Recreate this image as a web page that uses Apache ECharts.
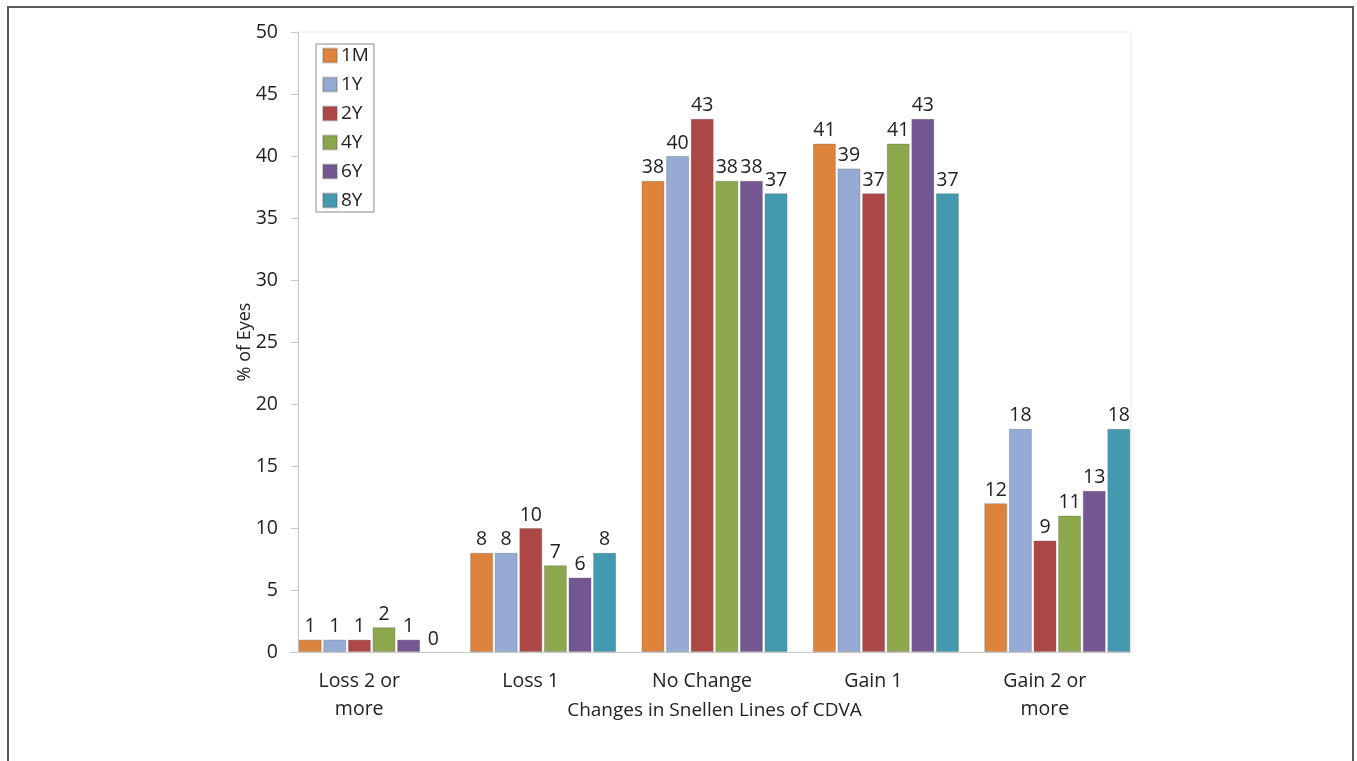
<!DOCTYPE html>
<html>
<head>
<meta charset="utf-8">
<script src="https://cdn.jsdelivr.net/npm/echarts@6/dist/echarts.min.js"></script>
<style>
  html, body { margin: 0; padding: 0; background: #fff; }
  #chart { position: absolute; left: 0; top: 0; width: 1357px; height: 761px; }
  #frame { position: absolute; left: 7px; top: 6px; width: 1347px; height: 800px;
           border: 2px solid #5a5a5a; box-sizing: border-box; pointer-events: none; }
</style>
</head>
<body>
<div id="chart"></div>
<div id="frame"></div>
<script>
// Categories and series (percent of eyes)
const categories = ["Loss 2 or\nmore", "Loss 1", "No Change", "Gain 1", "Gain 2 or\nmore"];
const seriesNames = ["1M", "1Y", "2Y", "4Y", "6Y", "8Y"];
const m1 = [1, 8, 38, 41, 12];
const y1 = [1, 8, 40, 39, 18];
const y2 = [1, 10, 43, 37, 9];
const y4 = [2, 7, 38, 41, 11];
const y6 = [1, 6, 38, 43, 13];
const y8 = [0, 8, 37, 37, 18];
const colors = ["#de833b", "#95aad5", "#ac4745", "#8da74d", "#735692", "#4399b0"];

const font = "'Open Sans', sans-serif";
const chart = echarts.init(document.getElementById("chart"));

const values = [m1, y1, y2, y4, y6, y8];

const option = {
  animation: false,
  textStyle: { fontFamily: font },
  grid: { left: 286, right: 214, top: 32, bottom: 109 },
  legend: {
    orient: "vertical",
    left: 316,
    top: 44,
    data: seriesNames,
    itemWidth: 14,
    itemHeight: 14,
    itemGap: 10,
    padding: [2, 5, 2, 6],
    borderColor: "#8a8a8a",
    borderWidth: 1,
    icon: "rect",
    textStyle: { fontFamily: font, fontSize: 19, color: "#222", padding: [0, 0, 0, -1] }
  },
  xAxis: {
    type: "category",
    data: categories,
    name: "Changes in Snellen Lines of CDVA",
    nameLocation: "middle",
    nameGap: 49,
    nameMoveOverlap: false,
    nameTextStyle: { fontFamily: font, fontSize: 19, color: "#222" },
    axisLine: { show: false },
    axisTick: { show: false },
    axisLabel: {
      margin: 15,
      formatter: v => v.split("\n").map(s => "{a|" + s + "}").join("\n"),
      rich: { a: { fontFamily: font, fontSize: 19.5, color: "#222", lineHeight: 28, padding: [0, 25, 0, 0] } }
    }
  },
  yAxis: {
    type: "value",
    min: 0,
    max: 50,
    interval: 5,
    offset: -12,
    name: "% of Eyes",
    nameLocation: "middle",
    nameGap: 44,
    nameMoveOverlap: false,
    nameTextStyle: { fontFamily: font, fontSize: 18, color: "#222" },
    axisLine: { show: true, lineStyle: { color: "#c8c8c8", width: 1 } },
    axisTick: { show: true, length: 7, lineStyle: { color: "#c8c8c8" } },
    axisLabel: { fontFamily: font, fontSize: 19.5, color: "#222", margin: 20 },
    splitLine: { show: false }
  },
  graphic: [
    // light plot-area frame (top / right) and the base line
    { type: "rect", shape: { x: 298, y: 32, width: 833, height: 620 }, style: { fill: "none", stroke: "#ececec", lineWidth: 1 }, silent: true, z: 0 },
    { type: "line", shape: { x1: 290, y1: 652.5, x2: 1131, y2: 652.5 }, style: { stroke: "#c8c8c8", lineWidth: 1 }, silent: true, z: 0 }
  ],
  series: seriesNames.map((name, i) => ({
    name: name,
    type: "bar",
    data: values[i].map(v => (v === 0 ? { value: v, itemStyle: { borderWidth: 0 } } : v)),
    barWidth: 23,
    barGap: "7%",
    itemStyle: { color: colors[i], borderColor: "rgba(90,90,90,0.3)", borderWidth: 1 },
    label: {
      show: true,
      position: "top",
      distance: 3,
      fontFamily: font,
      fontSize: 19.5,
      color: "#222"
    }
  }))
};

chart.setOption(option);
</script>
</body>
</html>
